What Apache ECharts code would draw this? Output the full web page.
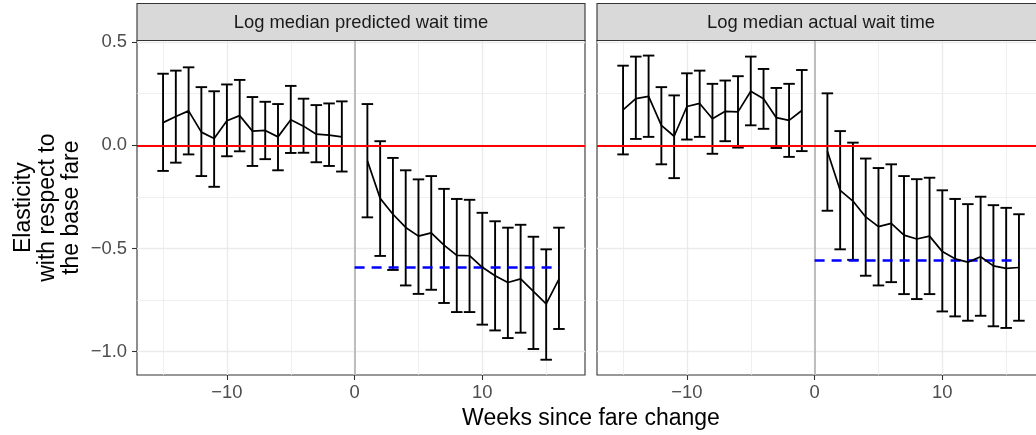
<!DOCTYPE html>
<html><head><meta charset="utf-8">
<script src="https://cdn.jsdelivr.net/npm/echarts@6/dist/echarts.min.js"></script>
<style>html,body{margin:0;padding:0;background:#fff}#c{width:1036px;height:435px}</style>
</head><body><div id="c"></div>
<script>
// ---------- data ----------
const panelTitles = ['Log median predicted wait time', 'Log median actual wait time'];
const xTitle = 'Weeks since fare change';
const yTitle = 'Elasticity\nwith respect to\nthe base fare';

const weeksPre  = [-15,-14,-13,-12,-11,-10,-9,-8,-7,-6,-5,-4,-3,-2,-1];
const weeksPost = [1,2,3,4,5,6,7,8,9,10,11,12,13,14,15,16];

const xTicks = [-10, 0, 10];
const xMinorTicks = [-15, -5, 5, 15];
const yTicks = [-1, -0.5, 0, 0.5];
const yMinorTicks = [-0.75, -0.25, 0.25];

// Panel 1: Log median predicted wait time
const predEstPre  = [0.110,0.140,0.167,0.064,0.033,0.119,0.144,0.069,0.072,0.041,0.124,0.093,0.054,0.049,0.041];
const predHiPre   = [0.347,0.362,0.378,0.282,0.262,0.295,0.317,0.234,0.211,0.200,0.288,0.226,0.195,0.203,0.213];
const predLoPre   = [-0.124,-0.084,-0.044,-0.149,-0.201,-0.053,-0.029,-0.100,-0.067,-0.121,-0.037,-0.036,-0.082,-0.100,-0.127];
const predEstPost = [-0.075,-0.257,-0.334,-0.398,-0.440,-0.424,-0.484,-0.533,-0.535,-0.591,-0.632,-0.665,-0.647,-0.708,-0.768,-0.648];
const predHiPost  = [0.200,0.020,-0.061,-0.121,-0.165,-0.149,-0.211,-0.260,-0.264,-0.327,-0.368,-0.399,-0.385,-0.443,-0.504,-0.399];
const predLoPost  = [-0.349,-0.536,-0.604,-0.679,-0.720,-0.700,-0.764,-0.808,-0.808,-0.869,-0.897,-0.934,-0.908,-0.987,-1.039,-0.890];
const predAvg = -0.590;

// Panel 2: Log median actual wait time
const actEstPre  = [0.172,0.226,0.237,0.097,0.044,0.188,0.203,0.129,0.165,0.162,0.262,0.226,0.134,0.121,0.169];
const actHiPre   = [0.386,0.430,0.435,0.282,0.242,0.349,0.362,0.298,0.314,0.335,0.430,0.370,0.278,0.298,0.365];
const actLoPre   = [-0.044,0.031,0.041,-0.092,-0.159,0.028,0.041,-0.041,0.020,-0.011,0.097,0.080,-0.013,-0.056,-0.028];
const actEstPost = [-0.029,-0.218,-0.270,-0.347,-0.394,-0.378,-0.435,-0.454,-0.440,-0.515,-0.550,-0.566,-0.540,-0.584,-0.596,-0.592];
const actHiPost  = [0.252,0.069,0.013,-0.064,-0.110,-0.092,-0.149,-0.164,-0.157,-0.218,-0.260,-0.285,-0.249,-0.290,-0.303,-0.334];
const actLoPost  = [-0.317,-0.504,-0.555,-0.632,-0.679,-0.663,-0.721,-0.745,-0.721,-0.805,-0.829,-0.850,-0.826,-0.877,-0.885,-0.850];
const actAvg = -0.558;

const avgLineEnd = 16;

// ---------- layout / style ----------
const FONT = '"Liberation Sans", Arial, Helvetica, sans-serif';
const X_MIN = -17.04, X_MAX = 18.04;
const Y_MIN = -1.113, Y_MAX = 0.508;
const CAP = 0.45;
const panels = [
  {left: 137, top: 40.5, width: 448, height: 334.5},
  {left: 597, top: 40.5, width: 448, height: 334.5}
];
const minus = s => String(s).replace('-', '\u2212');

const chart = echarts.init(document.getElementById('c'), null, {renderer: 'canvas'});

function errRender(params, api) {
  const x = api.value(0), lo = api.value(1), hi = api.value(2);
  const top = api.coord([x, hi]), bot = api.coord([x, lo]);
  const l = api.coord([x - CAP, hi])[0], r = api.coord([x + CAP, hi])[0];
  const style = {stroke: '#000', lineWidth: 1.9, fill: null};
  return {type: 'group', children: [
    {type: 'line', shape: {x1: top[0], y1: top[1], x2: bot[0], y2: bot[1]}, style},
    {type: 'line', shape: {x1: l, y1: top[1], x2: r, y2: top[1]}, style},
    {type: 'line', shape: {x1: l, y1: bot[1], x2: r, y2: bot[1]}, style}
  ]};
}

const grids = [], xAxes = [], yAxes = [], series = [], graphics = [];

const panelData = [
  {estPre: predEstPre, hiPre: predHiPre, loPre: predLoPre, estPost: predEstPost, hiPost: predHiPost, loPost: predLoPost, avg: predAvg},
  {estPre: actEstPre, hiPre: actHiPre, loPre: actLoPre, estPost: actEstPost, hiPost: actHiPost, loPost: actLoPost, avg: actAvg}
];

panels.forEach((p, i) => {
  grids.push({left: p.left, top: p.top, width: p.width, height: p.height, show: true,
    outerBoundsMode: 'none',
    borderColor: '#333333', borderWidth: 1.1, backgroundColor: 'transparent', containLabel: false});
  const xi = xAxes.length, yi = yAxes.length;
  // major x
  xAxes.push({type: 'value', gridIndex: i, min: X_MIN, max: X_MAX, position: 'bottom',
    axisLine: {show: false, onZero: false},
    axisTick: {show: true, customValues: xTicks, length: 5, lineStyle: {color: '#333333', width: 1.1}},
    axisLabel: {show: true, customValues: xTicks, margin: 9, color: '#4D4D4D', fontSize: 18.4, fontFamily: FONT,
      formatter: v => minus(v)},
    splitLine: {show: true, lineStyle: {color: '#EBEBEB', width: 1.4}}
  });
  // minor x
  xAxes.push({type: 'value', gridIndex: i, min: X_MIN, max: X_MAX, position: 'bottom',
    axisLine: {show: false, onZero: false}, axisLabel: {show: false},
    axisTick: {show: false, customValues: xMinorTicks},
    splitLine: {show: true, lineStyle: {color: '#EBEBEB', width: 0.8}}
  });
  // major y
  yAxes.push({type: 'value', gridIndex: i, min: Y_MIN, max: Y_MAX, position: 'left',
    axisLine: {show: false, onZero: false},
    axisTick: {show: i === 0, customValues: yTicks, length: 5, lineStyle: {color: '#333333', width: 1.1}},
    axisLabel: {show: i === 0, customValues: yTicks, margin: 10, color: '#4D4D4D', fontSize: 18.4, fontFamily: FONT,
      formatter: v => minus(v.toFixed(1))},
    splitLine: {show: true, lineStyle: {color: '#EBEBEB', width: 1.4}}
  });
  // minor y
  yAxes.push({type: 'value', gridIndex: i, min: Y_MIN, max: Y_MAX, position: 'left',
    axisLine: {show: false, onZero: false}, axisLabel: {show: false},
    axisTick: {show: false, customValues: yMinorTicks},
    splitLine: {show: true, lineStyle: {color: '#EBEBEB', width: 0.8}}
  });

  const d = panelData[i];
  const errData = weeksPre.map((w, k) => [w, d.loPre[k], d.hiPre[k]])
    .concat(weeksPost.map((w, k) => [w, d.loPost[k], d.hiPost[k]]));

  // reference vertical line at 0
  series.push({type: 'line', xAxisIndex: xi, yAxisIndex: yi, data: [], z: 1, silent: true,
    markLine: {silent: true, symbol: 'none', animation: false, label: {show: false},
      lineStyle: {color: '#BEBEBE', width: 2, type: 'solid'},
      data: [{xAxis: 0}]}
  });
  series.push({type: 'custom', xAxisIndex: xi, yAxisIndex: yi, renderItem: errRender,
    encode: {x: 0, y: [1, 2]}, data: errData, z: 3, silent: true, animation: false});
  series.push({type: 'line', xAxisIndex: xi, yAxisIndex: yi, z: 4, silent: true,
    data: weeksPre.map((w, k) => [w, d.estPre[k]]), showSymbol: false, symbol: 'none',
    lineStyle: {color: '#000', width: 1.7}, animation: false});
  series.push({type: 'line', xAxisIndex: xi, yAxisIndex: yi, z: 5, silent: true,
    data: weeksPost.map((w, k) => [w, d.estPost[k]]), showSymbol: false, symbol: 'none',
    lineStyle: {color: '#000', width: 1.7}, animation: false,
    markLine: {silent: true, symbol: 'none', animation: false, label: {show: false},
      data: [
        {yAxis: 0, lineStyle: {color: '#FF0000', width: 2, type: 'solid'}},
        [{coord: [0, d.avg], lineStyle: {color: '#0000FF', width: 2.6, type: [10, 7]}},
         {coord: [avgLineEnd, d.avg]}]
      ]}
  });

  // strip
  graphics.push({type: 'rect', z: 100, shape: {x: p.left, y: 3.5, width: p.width, height: 37},
    style: {fill: '#D9D9D9', stroke: '#333333', lineWidth: 1.1}});
  graphics.push({type: 'text', z: 101, x: p.left + p.width / 2, y: 22.5,
    style: {text: panelTitles[i], font: '18.4px ' + FONT, fill: '#1A1A1A',
      align: 'center', verticalAlign: 'middle', textAlign: 'center', textVerticalAlign: 'middle'}});
});

graphics.push({type: 'text', z: 101, x: 591, y: 419,
  style: {text: xTitle, font: '23px ' + FONT, fill: '#000',
    align: 'center', verticalAlign: 'middle', textAlign: 'center', textVerticalAlign: 'middle'}});
graphics.push({type: 'text', z: 101, x: 48, y: 207.7, rotation: Math.PI / 2,
  style: {text: yTitle, font: '23px ' + FONT, lineHeight: 24, fill: '#000',
    align: 'center', verticalAlign: 'middle', textAlign: 'center', textVerticalAlign: 'middle'}});

chart.setOption({
  animation: false,
  backgroundColor: '#FFFFFF',
  grid: grids,
  xAxis: xAxes,
  yAxis: yAxes,
  series: series,
  graphic: {elements: graphics}
});
</script>
</body></html>
